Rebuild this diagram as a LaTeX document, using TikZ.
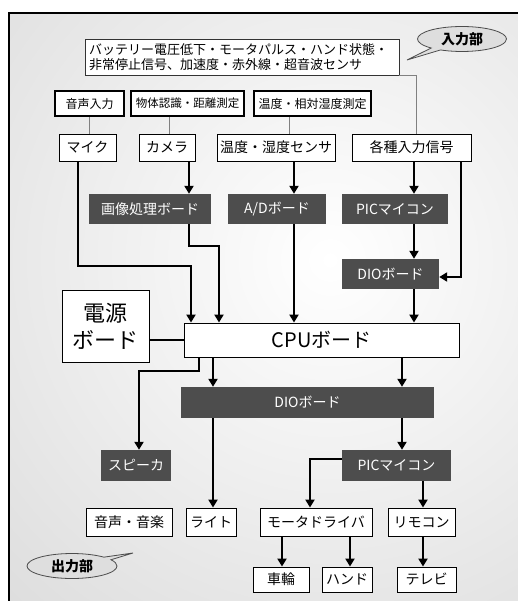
\documentclass[tikz,border=0pt]{standalone}
\usepackage{fontspec}
\setmainfont{Noto Sans CJK JP}
\usetikzlibrary{arrows.meta,shapes.callouts,calc}
\definecolor{darkbox}{HTML}{4D4D4D}
\definecolor{callfill}{HTML}{DEDEDE}
\tikzset{
  base/.style={inner sep=0pt, align=center},
  wbox/.style={base, draw=black, line width=0.9pt, fill=white, font=\fontsize{14}{16}\selectfont},
  bbox/.style={base, draw=black, line width=2.4pt, fill=white, font=\fontsize{12}{14}\selectfont},
  dbox/.style={base, fill=darkbox, text=white, font=\fontsize{14}{16}\selectfont},
  arr/.style={line width=2pt, -{Triangle[length=8pt,width=9pt]}},
  thinln/.style={draw=gray, line width=0.9pt},
  callout/.style={ellipse callout, draw=black!70, line width=0.8pt, fill=callfill, inner sep=0pt, font=\fontsize{14}{16}\selectfont\bfseries},
}
\begin{document}
\begin{tikzpicture}[x=1pt,y=-1pt]
\useasboundingbox (0,0) rectangle (518,601);
\fill[white] (0,0) rectangle (518,601);
\begin{scope}
  \clip (9,13) rectangle (518,601);
  \shade[inner color=white, outer color=black!20] (330,260) circle (720);
\end{scope}
\draw[line width=2.6pt, line cap=rect] (9,601) -- (9,13) -- (518,13);

% input part
\node[base, draw=black!80, line width=0.8pt, fill=white, minimum width=314pt, minimum height=36pt, text width=306pt, align=left, font=\fontsize{13}{15}\selectfont] (top) at (242,57) {バッテリー電圧低下・モータパルス・ハンド状態・\\非常停止信号、加速度・赤外線・超音波センサ};
\node[callout, minimum width=89pt, minimum height=25pt, callout absolute pointer={(407,60)}] (inlab) at (462,39) {入力部};

\node[bbox, minimum width=69pt, minimum height=25pt] (voice) at (89.5,103.5) {音声入力};
\node[bbox, minimum width=113pt, minimum height=25pt, font=\fontsize{11.5}{13}\selectfont] (obj) at (187.5,103.5) {物体認識・距離測定};
\node[bbox, minimum width=117pt, minimum height=25pt] (temp) at (312.5,103.5) {温度・相対湿度測定};

\node[wbox, minimum width=57pt, minimum height=27pt] (mic) at (87.5,147.5) {マイク};
\node[wbox, minimum width=56pt, minimum height=27pt] (cam) at (167,147.5) {カメラ};
\node[wbox, minimum width=118pt, minimum height=27pt] (hum) at (276,147.5) {温度・湿度センサ};
\node[wbox, minimum width=119pt, minimum height=27pt] (sig) at (411.5,147.5) {各種入力信号};

\node[dbox, minimum width=122pt, minimum height=30pt] (img) at (150,209) {画像処理ボード};
\node[dbox, minimum width=98pt, minimum height=30pt] (ad) at (277,209) {A/Dボード};
\node[dbox, minimum width=106pt, minimum height=30pt] (pic) at (395,209) {PICマイコン};
\node[dbox, minimum width=97pt, minimum height=30pt] (dio1) at (390.5,274) {DIOボード};

\node[wbox, minimum width=87pt, minimum height=72pt, font=\fontsize{22}{27}\selectfont] (pwr) at (105.5,326) {電源\\ボード};
\node[wbox, minimum width=275pt, minimum height=34pt, font=\fontsize{20}{22}\selectfont] (cpu) at (321.5,340) {CPUボード};

% output part
\node[dbox, minimum width=253pt, minimum height=31pt] (dio2) at (307.5,402.5) {DIOボード};
\node[dbox, minimum width=70pt, minimum height=31pt] (spk) at (136,465.5) {スピーカ};
\node[dbox, minimum width=109pt, minimum height=31pt] (pic2) at (396.5,465.5) {PICマイコン};

\node[wbox, minimum width=86pt, minimum height=28pt] (snd) at (129,522) {音声・音楽};
\node[wbox, minimum width=50pt, minimum height=28pt] (light) at (211,522) {ライト};
\node[wbox, minimum width=112pt, minimum height=28pt] (motor) at (316,522) {モータドライバ};
\node[wbox, minimum width=67pt, minimum height=28pt] (remote) at (421.5,522) {リモコン};

\node[wbox, minimum width=56pt, minimum height=25pt] (wheel) at (281,579.5) {車輪};
\node[wbox, minimum width=50pt, minimum height=25pt] (hand) at (347,579.5) {ハンド};
\node[wbox, minimum width=59pt, minimum height=25pt] (tv) at (426.5,579.5) {テレビ};

\node[callout, minimum width=90pt, minimum height=25pt, callout absolute pointer={(133,553)}] (outlab) at (72,566) {出力部};

% thin gray connectors
\draw[thinln] (voice.south) -- (voice.south |- mic.north);
\draw[thinln] ([xshift=2pt]cam.north) -- ([xshift=2pt]cam.north |- obj.south);
\draw[thinln] ([xshift=13pt]hum.north) -- ([xshift=13pt]hum.north |- temp.south);
\draw[thinln] (top.south east) -| ([xshift=4.5pt]sig.north);

% arrows input side
\draw[arr] ([xshift=22pt]cam.south) -- ([xshift=22pt]cam.south |- img.north);
\draw[arr] ([xshift=18pt]hum.south) -- ([xshift=18pt]hum.south |- ad.north);
\draw[arr] ([xshift=2.5pt]sig.south) -- ([xshift=2.5pt]sig.south |- pic.north);
\draw[arr] ([xshift=49.5pt]sig.south) |- ([yshift=-3pt]dio1.east);
\draw[arr] ([xshift=19pt]pic.south) -- ([xshift=19pt]pic.south |- dio1.north);
\draw[arr] ([xshift=23.5pt]dio1.south) -- ([xshift=23.5pt]dio1.south |- cpu.north);
\draw[arr] ([xshift=17pt]ad.south) -- ([xshift=17pt]ad.south |- cpu.north);
\draw[arr] ([xshift=39pt]img.south) -- ++(0,22) -| ([xshift=-102.5pt]cpu.north);
\draw[arr] ([xshift=-9.5pt]mic.south) -- ++(0,105) -| ([xshift=-130.5pt]cpu.north);
\draw[line width=1.2pt] (cpu.west) -- (cpu.west -| pwr.east);

% arrows output side
\draw[arr] ([xshift=-122.5pt]cpu.south) -- ++(0,14) -| ([xshift=3pt]spk.north);
\draw[arr] ([xshift=-108.5pt]cpu.south) -- ([xshift=-108.5pt]cpu.south |- dio2.north);
\draw[arr] ([xshift=80.5pt]cpu.south) -- ([xshift=80.5pt]cpu.south |- dio2.north);
\draw[arr] ([xshift=-94.5pt]dio2.south) -- ([xshift=-94.5pt]dio2.south |- light.north);
\draw[arr] ([xshift=94.5pt]dio2.south) -- ([xshift=94.5pt]dio2.south |- pic2.north);
\draw[arr] ([yshift=6.5pt]pic2.west) -| ([xshift=-6pt]motor.north);
\draw[arr] ([xshift=26.5pt]pic2.south) -- ([xshift=26.5pt]pic2.south |- remote.north);
\draw[arr] ([xshift=-34pt]motor.south) -- ([xshift=-34pt]motor.south |- wheel.north);
\draw[arr] ([xshift=34pt]motor.south) -- ([xshift=34pt]motor.south |- hand.north);
\draw[arr] ([xshift=1.5pt]remote.south) -- ([xshift=1.5pt]remote.south |- tv.north);
\end{tikzpicture}
\end{document}
